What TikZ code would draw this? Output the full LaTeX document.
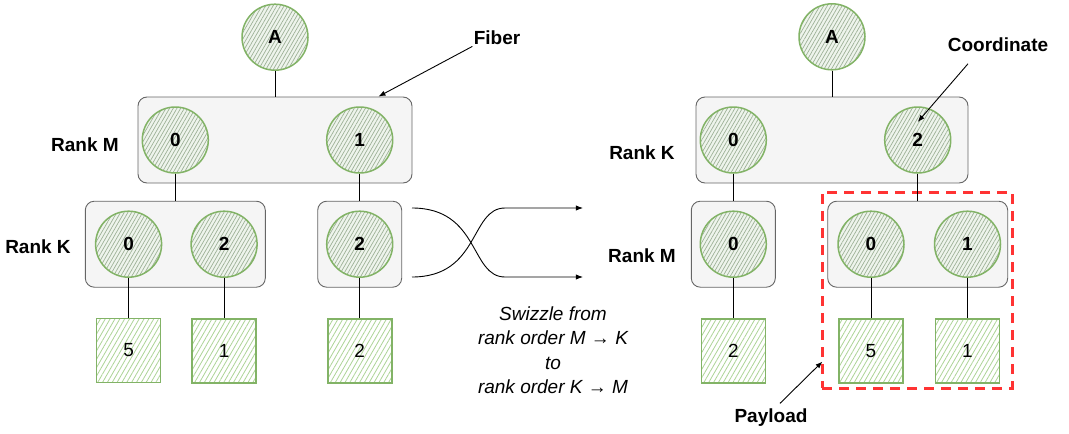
\documentclass[tikz,border=0pt]{standalone}
\usepackage{fontspec}
\setmainfont{Liberation Sans}
\usetikzlibrary{arrows.meta}
\usetikzlibrary{fit}
\usetikzlibrary{positioning}
\usetikzlibrary{patterns.meta}
\definecolor{leafgreen}{HTML}{82B366}
\definecolor{fibergray}{HTML}{666666}
\definecolor{fiberfill}{HTML}{F5F5F5}
\definecolor{coordfill}{HTML}{EEF4EC}
\definecolor{coordhatch}{HTML}{9DB096}
\definecolor{payloadhatch}{HTML}{ADD497}
\definecolor{payloadred}{HTML}{FF3333}

\begin{document}
\begin{tikzpicture}[
		x=1pt, y=-1pt,
		line width=0.9pt,
		node distance=27pt,
		labeltext/.style={font=\bfseries\fontsize{19}{23}\selectfont},
		fibershape/.style={draw=fibergray, fill=fiberfill, rounded corners=9pt, line width=0.9pt, inner sep=0pt, minimum height=86pt},
		coordshape/.style={circle, draw=leafgreen, line width=1.5pt, minimum size=66pt, inner sep=0pt, preaction={fill=coordfill}, pattern={Lines[angle=60,distance=3.2pt,line width=0.7pt]}, pattern color=coordhatch, labeltext},
		payloadshape/.style={rectangle, draw=leafgreen, line width=1.6pt, minimum size=64pt, inner sep=0pt, preaction={fill=white}, pattern={Lines[angle=60,distance=4.2pt,line width=0.8pt]}, pattern color=payloadhatch, font=\fontsize{19}{23}\selectfont},
		frameshape/.style={draw=payloadred, line width=3pt, dash pattern=on 10pt off 7pt, inner sep=0pt},
	]
		\useasboundingbox (0,0) rectangle (1069,434);

		\begin{scope}
			\node (m fiber) [fibershape, minimum width=274pt] at (275,140) {};
			\node (a left) [coordshape, above=26pt of m fiber] {A};
			\node (m0) [coordshape, right=4pt of m fiber.west] {0};
			\node (m1) [coordshape, left=19pt of m fiber.east] {1};

			\node (k fiber left) [fibershape, minimum width=180pt, below=of m0] {};
			\node (k fiber right) [fibershape, minimum width=84pt, below=of m1] {};
			\node (k0) [coordshape, right=10pt of k fiber left.west] {0};
			\node (k2) [coordshape, right=28pt of k0] {2};
			\node (k2b) [coordshape] at (k fiber right) {2};

			\node (p5) [payloadshape, below=40pt of k0] {5};
			\node (p1) [payloadshape, below=40pt of k2] {1};
			\node (p2) [payloadshape, below=40pt of k2b] {2};

			\node (rank m left) [labeltext] at (85,145) {Rank M};
			\node (rank k left) [labeltext] at (38,247) {Rank K};
			\node (fiber label) [labeltext, inner sep=1pt] at (497,38) {Fiber};

			\draw (a left) -- (m fiber);
			\draw (m0) -- (k fiber left);
			\draw (m1) -- (k fiber right);
			\draw (k0) -- (p5);
			\draw (k2) -- (p1);
			\draw (k2b) -- (p2);
			\draw[-Latex] (fiber label.south west) -- ([xshift=-34pt]m fiber.north east);
		\end{scope}

		\begin{scope}
			\coordinate (swizzle in top) at (412,208);
			\coordinate (swizzle in bottom) at (412,277);
			\coordinate (swizzle out top) at (583,208);
			\coordinate (swizzle out bottom) at (583,277);
			\node (swizzle note) [align=center, font=\itshape\fontsize{19}{24.5}\selectfont] at (553,350) {Swizzle from\\rank order M → K\\to\\rank order K → M};

			\draw[-Latex] (swizzle in top) .. controls (480,208) and (470,277) .. (505,277) -- (swizzle out bottom);
			\draw[-Latex] (swizzle in bottom) .. controls (480,277) and (470,208) .. (505,208) -- (swizzle out top);
		\end{scope}

		\begin{scope}
			\node (k fiber) [fibershape, minimum width=272pt] at (832,140) {};
			\node (a right) [coordshape, above=26pt of k fiber] {A};
			\node (rk0) [coordshape, right=4pt of k fiber.west] {0};
			\node (rk2) [coordshape, left=17pt of k fiber.east] {2};

			\node (rm fiber left) [fibershape, minimum width=84pt, below=of rk0] {};
			\node (rm fiber right) [fibershape, minimum width=180pt, below=of rk2] {};
			\node (rm0) [coordshape] at (rm fiber left) {0};
			\node (rm0b) [coordshape, right=10pt of rm fiber right.west] {0};
			\node (rm1) [coordshape, right=29pt of rm0b] {1};

			\node (q2) [payloadshape, below=40pt of rm0] {2};
			\node (q5) [payloadshape, below=40pt of rm0b] {5};
			\node (q1) [payloadshape, below=40pt of rm1] {1};

			\node (payload frame) [frameshape, fit={(822,192) (1012,388)}] {};

			\node (rank k right) [labeltext] at (642,153) {Rank K};
			\node (rank m right) [labeltext] at (642,256) {Rank M};
			\node (coord label) [labeltext] at (998,45) {Coordinate};
			\node (payload label) [labeltext] at (771,418) {Payload};

			\draw (a right) -- (k fiber);
			\draw (rk0) -- (rm fiber left);
			\draw (rk2) -- (rm fiber right);
			\draw (rm0) -- (q2);
			\draw (rm0b) -- (q5);
			\draw (rm1) -- (q1);
			\draw[-Latex] ([xshift=-30pt,yshift=-8pt]coord label.south) -- ([yshift=18pt]rk2.center);
			\draw[-Latex] ([xshift=9pt,yshift=2pt]payload label.north) -- ([xshift=2pt,yshift=28pt]payload frame.south west);
		\end{scope}
	\end{tikzpicture}
\end{document}
